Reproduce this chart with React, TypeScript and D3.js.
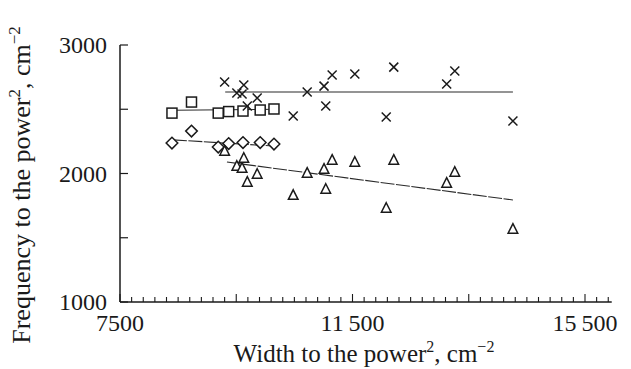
import * as d3 from "d3";

// ── Data ──────────────────────────────────────────────────
const widthSq = [9300, 9510, 9600, 9630, 9690, 9860, 10480, 10720, 11010, 11040, 11150, 11540, 12080, 12210, 13120, 13260, 14260];
const crossFreq = [2712, 2626, 2618, 2688, 2525, 2587, 2447, 2634, 2680, 2525, 2766, 2774, 2439, 2828, 2696, 2797, 2408];
const triFreq = [2175, 2058, 2043, 2120, 1934, 1996, 1832, 2004, 2035, 1879, 2105, 2089, 1731, 2105, 1926, 2011, 1568];

const widthLow = [8394, 8730, 9190, 9370, 9616, 9912, 10149];
const squareFreq = [2470, 2556, 2470, 2482, 2486, 2494, 2502];
const diamondFreq = [2237, 2330, 2206, 2233, 2241, 2241, 2229];

// fitted lines: [x0, y0, x1, y1]
const crossFit = [9310, 2634, 14260, 2634];
const triFit = [9340, 2089, 14260, 1794];
const squareFit = [8400, 2492, 10200, 2500];
const diamondFit = [8410, 2262, 10200, 2212];

const xLabelTicks = [7500, 11500, 15500];
const yLabelTicks = [1000, 2000, 3000];

// ── Layout ────────────────────────────────────────────────
const W = 631;
const H = 369;
const FONT = "'Liberation Serif', 'Times New Roman', serif";
const INK = "#1a1a1a";

const x = d3.scaleLinear().domain([7500, 15500]).range([120, 585]);
const y = d3.scaleLinear().domain([1000, 3000]).range([302, 45]);
const xEnd = x(15960);

const xMinor = d3.range(7500, 16000, 200);
const xMajor = d3.range(7500, 16000, 2000);
const yTicks = d3.range(1000, 3001, 500);

const fitLine = (f: number[], dash?: string) => (
  <line x1={x(f[0])} y1={y(f[1])} x2={x(f[2])} y2={y(f[3])}
    stroke="#2a2a2a" strokeWidth={1.1} strokeDasharray={dash} />
);

export default function App() {
  return (
    <div style={{ position: "fixed", left: 0, top: 0, background: "#fff" }}>
      <svg width={W} height={H} style={{ display: "block" }} fontFamily={FONT}>
        <rect width={W} height={H} fill="#fff" />

        {/* ── Axes ── */}
        <g stroke={INK} strokeWidth={1.5} fill="none">
          <line x1={x(7500)} x2={x(7500)} y1={y(3000)} y2={y(1000)} />
          <line x1={x(7500)} x2={xEnd} y1={y(1000)} y2={y(1000)} />
          {yTicks.map(t => (
            <line key={t} x1={x(7500)} x2={x(7500) + 8} y1={y(t)} y2={y(t)} strokeWidth={1.2} />
          ))}
          {xMinor.map(t => (
            <line key={t} x1={x(t)} x2={x(t)} y1={y(1000)}
              y2={y(1000) - (xMajor.includes(t) ? 8 : 5)} strokeWidth={1.1} />
          ))}
        </g>

        {yLabelTicks.map(t => (
          <text key={t} x={x(7500) - 13} y={y(t) + 8} textAnchor="end"
            fontSize={24} fill={INK}>{t}</text>
        ))}
        {xLabelTicks.map(t => (
          <text key={t} x={x(t)} y={331} textAnchor="middle" fontSize={24} fill={INK}>
            {t >= 10000 ? d3.format("d")(t).replace(/^(\d\d)/, "$1\u2009") : t}
          </text>
        ))}

        {/* ── Axis titles ── */}
        <text x={364} y={362} textAnchor="middle" fontSize={25} fill={INK}>
          Width to the power<tspan dy={-10} fontSize={16}>2</tspan>
          <tspan dy={10}>, cm</tspan><tspan dy={-10} fontSize={16}>−2</tspan>
        </text>
        <text transform={`translate(30, 185) rotate(-90)`} textAnchor="middle" fontSize={26} fill={INK}>
          Frequency to the power<tspan dy={-10} fontSize={17}>2</tspan>
          <tspan dy={10}>, cm</tspan><tspan dy={-10} fontSize={17}>−2</tspan>
        </text>

        {/* ── Fit lines ── */}
        {fitLine(crossFit)}
        {fitLine(triFit, "14 1.5")}
        {fitLine(squareFit)}
        {fitLine(diamondFit, "14 1.5")}

        {/* ── Markers ── */}
        <g fill="none" stroke={INK} strokeWidth={1.5}>
          {widthLow.map((w, i) => (
            <rect key={"s" + i} x={x(w) - 5} y={y(squareFreq[i]) - 5} width={10} height={10} fill="#fff" />
          ))}
          {widthLow.map((w, i) => {
            const cx = x(w), cy = y(diamondFreq[i]);
            return <path key={"d" + i} fill="#fff"
              d={`M${cx},${cy - 5.8}L${cx + 5.8},${cy}L${cx},${cy + 5.8}L${cx - 5.8},${cy}Z`} />;
          })}
          {widthSq.map((w, i) => {
            const cx = x(w), cy = y(triFreq[i]);
            return <path key={"t" + i} fill="#fff"
              d={`M${cx},${cy - 5.3}L${cx + 4.8},${cy + 4.2}L${cx - 4.8},${cy + 4.2}Z`} />;
          })}
          {widthSq.map((w, i) => {
            const cx = x(w), cy = y(crossFreq[i]);
            return <path key={"c" + i}
              d={`M${cx - 4.5},${cy - 4.5}L${cx + 4.5},${cy + 4.5}M${cx - 4.5},${cy + 4.5}L${cx + 4.5},${cy - 4.5}`} />;
          })}
        </g>
      </svg>
    </div>
  );
}
